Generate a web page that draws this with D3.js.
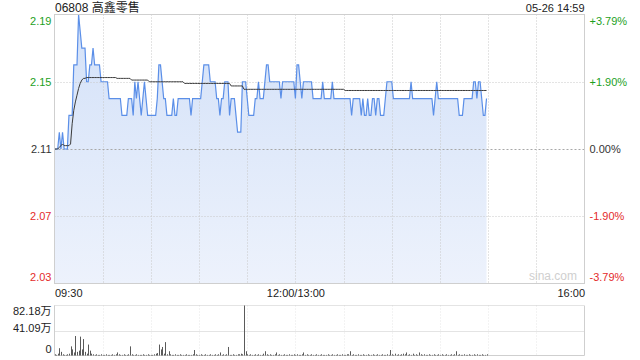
<!DOCTYPE html>
<html>
<head>
<meta charset="utf-8">
<script src="https://cdn.jsdelivr.net/npm/d3@7"></script>
<style>
  body { margin: 0; background: #fff; }
  svg text { font-family: "Liberation Sans", Arial, "Noto Sans CJK SC", sans-serif; font-size: 11px; }
</style>
</head>
<body>
<div id="chart"></div>
<script>
const title = '06808 高鑫零售';
const stamp = '05-26 14:59';
const prevClose = 2.11;
const priceTicks = [2.19, 2.15, 2.11, 2.07, 2.03];
const pctLabels = ['+3.79%', '+1.90%', '0.00%', '-1.90%', '-3.79%'];
const timeTicks = [0, 150, 330];
const timeLabels = ['09:30', '12:00/13:00', '16:00'];
const volTicks = [0, 41.09, 82.18];
const volLabels = ['0', '41.09万', '82.18万'];

// one value per minute, 09:30 -> 14:59
const price = [
  2.11,2.11,2.11,2.12,2.11,2.12,2.11,2.11,2.11,2.13,
  2.13,2.13,2.16,2.16,2.16,2.19,2.18,2.17,2.17,2.17,
  2.15,2.15,2.16,2.16,2.17,2.16,2.16,2.16,2.16,2.15,
  2.15,2.15,2.15,2.15,2.14,2.14,2.14,2.14,2.14,2.14,
  2.14,2.14,2.13,2.13,2.13,2.13,2.14,2.14,2.14,2.13,
  2.15,2.14,2.15,2.14,2.13,2.14,2.15,2.14,2.13,2.13,
  2.13,2.13,2.13,2.13,2.14,2.16,2.16,2.15,2.14,2.14,
  2.13,2.13,2.13,2.13,2.14,2.13,2.13,2.14,2.14,2.14,
  2.14,2.14,2.14,2.14,2.14,2.13,2.14,2.14,2.14,2.14,
  2.14,2.14,2.15,2.16,2.16,2.16,2.16,2.15,2.15,2.15,
  2.15,2.14,2.14,2.13,2.14,2.14,2.15,2.15,2.15,2.13,
  2.14,2.14,2.14,2.13,2.12,2.12,2.12,2.15,2.15,2.15,
  2.14,2.13,2.13,2.13,2.13,2.14,2.14,2.15,2.14,2.14,
  2.14,2.15,2.16,2.16,2.15,2.15,2.15,2.15,2.15,2.15,
  2.15,2.14,2.15,2.15,2.15,2.15,2.15,2.15,2.15,2.15,
  2.14,2.16,2.16,2.15,2.14,2.15,2.15,2.15,2.15,2.15,
  2.15,2.14,2.14,2.14,2.14,2.14,2.14,2.15,2.14,2.14,
  2.14,2.14,2.14,2.15,2.14,2.14,2.14,2.14,2.14,2.14,
  2.14,2.14,2.14,2.14,2.14,2.13,2.14,2.14,2.14,2.14,
  2.14,2.13,2.14,2.13,2.13,2.14,2.13,2.13,2.14,2.14,
  2.13,2.14,2.14,2.13,2.13,2.13,2.14,2.15,2.15,2.15,
  2.15,2.14,2.14,2.14,2.14,2.14,2.14,2.14,2.14,2.14,
  2.14,2.14,2.15,2.14,2.14,2.14,2.14,2.14,2.14,2.14,
  2.14,2.14,2.14,2.14,2.14,2.14,2.13,2.14,2.15,2.14,
  2.14,2.14,2.14,2.14,2.14,2.14,2.14,2.14,2.14,2.14,
  2.14,2.14,2.13,2.13,2.13,2.14,2.14,2.14,2.14,2.14,
  2.14,2.15,2.15,2.14,2.15,2.15,2.14,2.13,2.13,2.14
];

const avg = [
  2.110,2.110,2.110,2.111,2.112,2.113,2.112,2.112,2.112,2.112,
  2.113,2.125,2.133,2.138,2.142,2.146,2.149,2.151,2.152,2.152,
  2.1525,2.1525,2.1525,2.1525,2.1525,2.1525,2.1525,2.1525,2.1525,2.1525,
  2.1525,2.1525,2.1525,2.1525,2.1525,2.1525,2.1525,2.1525,2.1525,2.152,
  2.152,2.152,2.152,2.152,2.152,2.152,2.152,2.152,2.151,2.151,
  2.151,2.151,2.151,2.151,2.151,2.151,2.151,2.151,2.151,2.150,
  2.150,2.150,2.150,2.150,2.150,2.150,2.150,2.150,2.150,2.150,
  2.150,2.150,2.150,2.150,2.150,2.150,2.150,2.150,2.150,2.150,
  2.150,2.149,2.149,2.149,2.149,2.149,2.149,2.149,2.149,2.149,
  2.149,2.149,2.149,2.149,2.149,2.149,2.149,2.149,2.149,2.149,
  2.149,2.149,2.149,2.149,2.149,2.149,2.149,2.149,2.149,2.149,
  2.1475,2.1475,2.1475,2.1475,2.1475,2.1475,2.1475,2.1475,2.1455,2.1455,
  2.1455,2.1455,2.1455,2.1455,2.1455,2.1455,2.1455,2.1455,2.1455,2.1455,
  2.1455,2.1455,2.1455,2.1455,2.1455,2.1455,2.1455,2.1455,2.1455,2.1455,
  2.1455,2.1455,2.1455,2.1455,2.1455,2.1455,2.1455,2.1455,2.1455,2.1455,
  2.1455,2.1455,2.1455,2.1455,2.1455,2.1455,2.1455,2.1455,2.1455,2.1455,
  2.1455,2.1455,2.1455,2.1455,2.1455,2.1455,2.1455,2.1455,2.1455,2.1455,
  2.1455,2.1455,2.1455,2.1455,2.1455,2.1455,2.1455,2.1455,2.1455,2.1455,
  2.1455,2.1448,2.1448,2.1448,2.1448,2.1448,2.1448,2.1448,2.1448,2.1448,
  2.1448,2.1448,2.1448,2.1448,2.1448,2.1448,2.1448,2.1448,2.1448,2.1448,
  2.1448,2.1448,2.1448,2.1448,2.1448,2.1448,2.1448,2.1448,2.1448,2.1448,
  2.1448,2.1448,2.1448,2.1448,2.1448,2.1448,2.1448,2.1448,2.1448,2.1448,
  2.1448,2.1448,2.1448,2.1448,2.1448,2.1448,2.1448,2.1448,2.1448,2.1448,
  2.1448,2.1448,2.1448,2.1448,2.1448,2.1448,2.1448,2.1448,2.1448,2.1448,
  2.1448,2.1448,2.1448,2.1448,2.1448,2.1448,2.1448,2.1448,2.1448,2.1448,
  2.1448,2.1448,2.1448,2.1448,2.1448,2.1448,2.1448,2.1448,2.1448,2.1448,
  2.1448,2.1448,2.1448,2.1448,2.1448,2.1448,2.1448,2.1448,2.1448,2.1448
];

// 万股 per minute
const volume = [
  2,1,3,12,6,2,1,1,2,3,
  15,10,5,32,6,8,31,10,27,6,
  3,18,8,3,2,1,2,1,1,2,
  1,1,2,1,1,1,2,1,2,5,
  2,1,1,2,1,1,2,15,2,1,
  1,2,1,1,1,2,1,1,2,1,
  1,1,2,3,4,18,10,14,3,22,
  2,7,2,1,1,2,1,1,2,1,
  1,1,2,1,1,1,2,9,2,1,
  1,2,1,1,2,1,1,2,1,1,
  2,1,2,5,1,2,1,2,14,1,
  1,2,1,1,2,2,3,2,82.18,7,
  2,1,2,1,1,2,1,2,1,1,
  3,7,2,1,2,1,1,2,5,1,
  2,1,1,2,1,1,2,1,1,2,
  1,2,1,1,2,5,1,2,1,1,
  2,1,1,2,1,1,2,1,1,1,
  2,1,1,2,1,1,2,1,1,2,
  1,1,2,2,7,1,2,1,1,2,
  1,1,2,1,1,2,1,1,2,1,
  1,2,1,1,2,1,1,2,1,9,
  2,1,3,1,2,1,2,3,2,5,
  1,2,1,3,1,2,1,5,2,1,
  2,1,1,2,1,1,2,1,1,2,
  1,2,1,1,2,1,1,2,1,2,
  7,1,2,1,1,2,1,1,2,1,
  1,2,1,2,1,1,2,1,1,2
];

const W = 640, H = 360;
const pLeft = 54.5, pRight = 584.5, pTop = 14.5, pBottom = 283.5;
const vTop = 305.5, vBottom = 355.5;

const svg = d3.select('#chart')
  .append('svg')
  .attr('width', W)
  .attr('height', H);

const x = d3.scaleLinear().domain([0, 330]).range([pLeft, pRight]);
const y = d3.scaleLinear().domain([2.03, 2.19]).range([pBottom, pTop]);
const yv = d3.scaleLinear().domain([0, 82.18]).range([vBottom, vTop]);

const green = '#1d9f1d', red = '#e42b2b', dark = '#333';
const colorFor = v => v > prevClose ? green : (v < prevClose ? red : dark);

// gradient for the area
const grad = svg.append('defs').append('linearGradient')
  .attr('id', 'fillGrad').attr('x1', 0).attr('y1', 0).attr('x2', 0).attr('y2', 1);
grad.append('stop').attr('offset', '0%').attr('stop-color', '#d3e1f8');
grad.append('stop').attr('offset', '100%').attr('stop-color', '#edf2fc');

// title + time stamp
svg.append('text').attr('x', 55).attr('y', 12)
  .style('font-size', '12px').attr('fill', '#222').text(title);
svg.append('text').attr('x', pRight).attr('y', 12)
  .attr('text-anchor', 'end').attr('fill', '#222').text(stamp);

//area + line
const area = d3.area()
  .x((d, i) => x(i))
  .y0(pBottom)
  .y1(d => y(d));

svg.append('path')
  .datum(price)
  .attr('d', area)
  .attr('fill', 'url(#fillGrad)');

// grid
const grid = svg.append('g');
d3.range(30, 330, 30).forEach(t => {
  grid.append('line')
    .attr('x1', Math.round(x(t)) + 0.5).attr('x2', Math.round(x(t)) + 0.5)
    .attr('y1', pTop).attr('y2', pBottom)
    .attr('stroke', '#c8c8c8').attr('stroke-dasharray', '1,2');
  grid.append('line')
    .attr('x1', Math.round(x(t)) + 0.5).attr('x2', Math.round(x(t)) + 0.5)
    .attr('y1', vTop).attr('y2', vBottom)
    .attr('stroke', '#e6e6e6').attr('stroke-dasharray', '1,2');
});
[2.15, 2.07].forEach(v => {
  grid.append('line')
    .attr('x1', pLeft).attr('x2', pRight)
    .attr('y1', Math.round(y(v)) + 0.5).attr('y2', Math.round(y(v)) + 0.5)
    .attr('stroke', '#c8c8c8').attr('stroke-dasharray', '1,2');
});
grid.append('line')
  .attr('x1', pLeft).attr('x2', pRight)
  .attr('y1', Math.round(y(prevClose)) + 0.5).attr('y2', Math.round(y(prevClose)) + 0.5)
  .attr('stroke', '#a8a8a8').attr('stroke-dasharray', '2,2');

svg.append('text')
  .attr('x', 577).attr('y', 280)
  .attr('text-anchor', 'end')
  .style('font-size', '12px')
  .attr('fill', '#cfcfcf')
  .text('sina.com');

const line = d3.line()
  .x((d, i) => x(i))
  .y(d => y(d));

svg.append('path')
  .datum(price)
  .attr('d', line)
  .attr('fill', 'none')
  .attr('stroke', '#5b8fe8')
  .attr('stroke-width', 1.2);

svg.append('path')
  .datum(avg)
  .attr('d', line)
  .attr('fill', 'none')
  .attr('stroke', '#3a3a3a')
  .attr('stroke-width', 1);

// frame
svg.append('rect')
  .attr('x', pLeft).attr('y', pTop)
  .attr('width', pRight - pLeft).attr('height', pBottom - pTop)
  .attr('fill', 'none').attr('stroke', '#cfcfcf');

//y-axis left
const yl = svg.append('g')
  .attr('transform', `translate(${pLeft - 3},0)`)
  .call(d3.axisLeft(y).tickValues(priceTicks).tickSize(0).tickPadding(0).tickFormat(d3.format('.2f')));
yl.select('.domain').remove();
yl.selectAll('text')
  .attr('fill', d => colorFor(d))
  .attr('dy', d => d === 2.19 ? '0.95em' : (d === 2.03 ? '-0.25em' : '0.32em'));

//y-axis right
const yr = svg.append('g')
  .attr('transform', `translate(${pRight + 5},0)`)
  .call(d3.axisRight(y).tickValues(priceTicks).tickSize(0).tickPadding(0).tickFormat((d, i) => pctLabels[i]));
yr.select('.domain').remove();
yr.selectAll('text')
  .attr('fill', d => colorFor(d))
  .attr('dy', d => d === 2.19 ? '0.95em' : (d === 2.03 ? '-0.25em' : '0.32em'));

//x-axis
const xa = svg.append('g')
  .attr('transform', `translate(0,${pBottom})`)
  .call(d3.axisBottom(x).tickValues(timeTicks).tickSize(0).tickPadding(6).tickFormat((d, i) => timeLabels[i]));
xa.select('.domain').remove();
xa.selectAll('text')
  .attr('fill', '#222')
  .attr('text-anchor', (d, i) => i === 0 ? 'start' : (i === timeTicks.length - 1 ? 'end' : 'middle'));

// volume panel
svg.append('line').attr('x1', pLeft).attr('x2', pRight).attr('y1', vTop).attr('y2', vTop)
  .attr('stroke', '#c8c8c8').attr('stroke-dasharray', '1,1');
svg.append('line').attr('x1', pLeft).attr('x2', pRight)
  .attr('y1', Math.round(yv(41.09)) + 0.5).attr('y2', Math.round(yv(41.09)) + 0.5)
  .attr('stroke', '#c8c8c8').attr('stroke-dasharray', '1,1');
svg.append('line').attr('x1', pLeft).attr('x2', pLeft).attr('y1', vTop).attr('y2', vBottom).attr('stroke', '#cfcfcf');
svg.append('line').attr('x1', pRight).attr('x2', pRight).attr('y1', vTop).attr('y2', vBottom).attr('stroke', '#cfcfcf');
svg.append('line').attr('x1', pLeft).attr('x2', pRight).attr('y1', vBottom).attr('y2', vBottom).attr('stroke', '#cfcfcf');

svg.append('g')
  .selectAll('line')
  .data(volume)
  .enter()
  .append('line')
  .attr('x1', (d, i) => Math.round(x(i)) + 0.5)
  .attr('x2', (d, i) => Math.round(x(i)) + 0.5)
  .attr('y1', vBottom)
  .attr('y2', d => yv(d))
  .attr('stroke', '#5a5a5a')
  .attr('stroke-width', 1);

const va = svg.append('g')
  .attr('transform', `translate(${pLeft - 3},0)`)
  .call(d3.axisLeft(yv).tickValues(volTicks).tickSize(0).tickPadding(0).tickFormat((d, i) => volLabels[i]));
va.select('.domain').remove();
va.selectAll('text')
  .attr('fill', '#222')
  .attr('dy', (d, i) => i === 0 ? '-0.3em' : (i === 2 ? '0.85em' : '0.1em'));
</script>
</body>
</html>
